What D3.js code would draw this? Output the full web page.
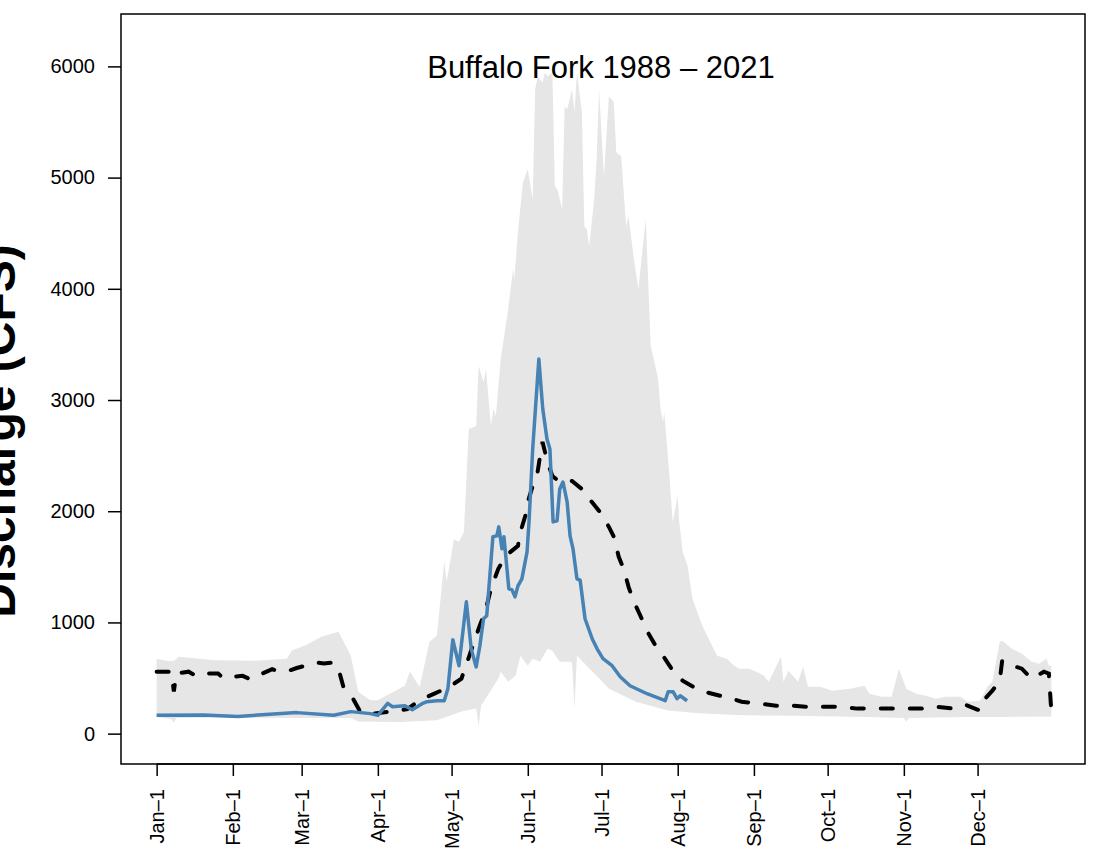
<!DOCTYPE html>
<html>
<head>
<meta charset="utf-8">
<script src="https://cdn.jsdelivr.net/npm/d3@7"></script>
<style>
  body { margin: 0; background: #fff; }
  svg { display: block; font-family: "Liberation Sans", Arial, sans-serif; }
</style>
</head>
<body>
<svg id="chart" width="1095" height="861"></svg>
<script>
// day of year -> value
var monthLabels = ["Jan–1","Feb–1","Mar–1","Apr–1","May–1","Jun–1","Jul–1","Aug–1","Sep–1","Oct–1","Nov–1","Dec–1"];
var monthDays = [1, 32, 60, 91, 121, 152, 182, 213, 244, 274, 305, 335];
var yTicks = [0, 1000, 2000, 3000, 4000, 5000, 6000];

// max envelope 1988-2021
var maxDays = [1, 6, 8, 10, 25, 41, 54, 56, 62, 68, 75, 80, 83, 88, 91, 102, 104, 108, 112, 115, 118, 119, 122, 124, 126, 128, 131, 132, 134, 135, 137, 138, 139, 141, 144, 146, 146.5, 148, 150, 152, 154, 155, 156, 158, 159, 160, 162, 163, 164, 166, 167, 168, 170, 171, 172, 174, 175, 176, 177, 179, 180, 181, 183, 185, 187, 188, 190, 192, 193, 195, 197, 200, 202, 203, 205, 206, 207, 207.5, 209, 210, 211, 213, 213.5, 215, 217, 219, 223, 227, 229, 233, 236, 238, 242, 245, 248, 250, 255, 256, 258, 262, 264, 266, 271, 276, 283, 289, 291, 296, 300, 303, 306, 310, 314, 318, 322, 328, 331, 336, 339, 341, 344, 345, 349, 353, 357, 360, 363, 364, 365];
var maxVals = [674, 650, 655, 692, 660, 656, 674, 748, 800, 871, 917, 700, 377, 300, 300, 431, 557, 420, 826, 880, 1545, 1365, 1751, 1724, 1814, 2740, 2766, 3305, 3162, 3278, 2766, 2919, 2856, 3368, 3817, 4177, 4087, 4509, 4958, 5075, 4805, 5793, 5910, 5856, 5946, 5910, 5946, 4922, 4895, 4716, 5641, 5614, 5793, 5587, 5946, 5587, 4563, 4536, 4383, 4805, 5165, 5793, 5012, 5731, 5677, 5227, 5192, 4563, 4653, 4293, 3997, 4626, 3485, 3395, 3189, 2919, 2802, 2892, 2497, 2200, 1904, 2138, 1931, 1635, 1509, 1213, 970, 790, 700, 674, 611, 584, 584, 557, 521, 467, 692, 467, 566, 467, 602, 422, 422, 386, 404, 431, 359, 332, 332, 584, 404, 359, 341, 314, 332, 332, 287, 296, 422, 467, 826, 835, 763, 719, 647, 629, 674, 611, 611];

// min envelope 1988-2021
var minDays = [1, 7, 8, 9, 30, 60, 80, 83, 100, 115, 119, 125, 131, 132, 133, 140, 141, 144, 147, 149, 152, 154, 157, 160, 162, 165, 169, 170, 171, 172, 176, 180, 185, 196, 209, 223, 240, 260, 290, 305, 306, 307, 330, 345, 365];
var minVals = [150, 130, 100, 140, 145, 140, 140, 110, 105, 120, 153, 200, 225, 72, 251, 494, 557, 467, 521, 700, 611, 674, 647, 763, 745, 647, 647, 640, 225, 700, 611, 521, 404, 287, 207, 180, 165, 160, 150, 140, 110, 140, 150, 150, 155];

// mean 1988-2021
var meanDays = [1, 7, 8, 9, 14, 17, 19, 26, 28, 36, 39, 46, 48, 50, 54, 58, 66, 69, 73, 75, 77, 80, 84, 89, 97, 103, 108, 114, 120, 125, 132, 135, 137, 140, 143, 148, 149, 151, 152, 154, 156, 157, 158, 160, 162, 165, 168, 170, 174, 178, 181, 185, 187, 189, 191, 193, 195, 198, 200, 204, 207, 211, 215, 222, 227, 235, 239, 247, 253, 260, 265, 273, 279, 286, 292, 299, 305, 312, 318, 325, 330, 336, 338, 341, 344, 345, 348, 353, 357, 362, 364, 365];
var meanVals = [557, 557, 380, 540, 557, 520, 540, 540, 500, 520, 490, 560, 580, 565, 560, 590, 640, 630, 640, 580, 420, 350, 190, 180, 200, 220, 300, 360, 420, 494, 943, 1123, 1302, 1482, 1599, 1689, 1814, 1958, 2084, 2227, 2353, 2497, 2623, 2443, 2317, 2263, 2272, 2272, 2200, 2084, 2003, 1859, 1770, 1590, 1482, 1320, 1195, 1051, 943, 790, 700, 566, 476, 386, 359, 314, 287, 269, 251, 251, 242, 242, 242, 225, 225, 225, 225, 225, 242, 225, 260, 207, 314, 386, 476, 656, 620, 584, 494, 557, 540, 200];

// 2021
var curDays = [1, 20, 34, 58, 73, 80, 88, 91, 95, 97, 102, 105, 109, 111, 115, 118, 119.5, 121.5, 124, 127, 129, 131, 132.5, 134, 135.3, 137.8, 139.4, 140.2, 141.5, 142.3, 144.3, 145.6, 146.8, 148, 149.6, 151.7, 152.5, 154, 156.5, 158.1, 159.8, 161, 162.3, 163.9, 165, 166.3, 168, 169.2, 170.4, 172, 173.3, 175.3, 178.2, 180.2, 182.6, 186.3, 189.6, 193.6, 200.5, 207.9, 209.1, 211.1, 212.7, 214, 216.8];
var curVals = [165, 168, 155, 189, 165, 198, 180, 165, 272, 242, 251, 215, 269, 287, 296, 296, 404, 845, 611, 1185, 760, 600, 790, 1033, 1060, 1770, 1778, 1859, 1662, 1770, 1302, 1293, 1230, 1329, 1392, 1635, 1904, 2560, 3368, 2919, 2650, 2560, 1904, 1913, 2200, 2263, 2084, 1778, 1662, 1392, 1380, 1033, 853, 763, 674, 611, 512, 431, 359, 296, 377, 377, 314, 341, 296];

var box = {left: 121, right: 1085, top: 14, bottom: 764};

var svg = d3.select("#chart");

var x = d3.scaleLinear().domain([-13.5, 378.7]).range([box.left, box.right]);
var y = d3.scaleLinear().domain([-273, 6471]).range([box.bottom, box.top]);

function pts(days, vals){
    return days.map(function(d, i){ return [d, vals[i]]; });
}

var line = d3.line()
    .x(function(d){ return x(d[0]); })
    .y(function(d){ return y(d[1]); });

// min/max band
var band = pts(maxDays, maxVals).concat(pts(minDays, minVals).reverse());
svg.append("path")
    .attr("d", line(band) + "Z")
    .attr("fill", "#e6e6e6")
    .attr("stroke", "none");

svg.append("path")
    .attr("d", line(pts(meanDays, meanVals)))
    .attr("fill", "none")
    .attr("stroke", "#000")
    .attr("stroke-width", 4)
    .attr("stroke-linecap", "round")
    .attr("stroke-dasharray", "12 17");

svg.append("path")
    .attr("d", line(pts(curDays, curVals)))
    .attr("fill", "none")
    .attr("stroke", "#4682b4")
    .attr("stroke-width", 3.5)
    .attr("stroke-linejoin", "round");

// frame
svg.append("rect")
    .attr("x", box.left).attr("y", box.top)
    .attr("width", box.right - box.left).attr("height", box.bottom - box.top)
    .attr("fill", "none").attr("stroke", "#000").attr("stroke-width", 1.5);

// y axis
var yAxis = svg.append("g")
    .attr("transform", "translate(" + box.left + ",0)")
    .call(d3.axisLeft(y).tickValues(yTicks).tickSize(13).tickPadding(13).tickFormat(d3.format("d")));
yAxis.select(".domain").remove();
yAxis.selectAll("line").attr("stroke", "#000").attr("stroke-width", 1.5);
yAxis.selectAll("text").attr("font-size", 20).attr("fill", "#000")
    .attr("font-family", "Liberation Sans, Arial, sans-serif");

// x axis
var xAxis = svg.append("g")
    .attr("transform", "translate(0," + box.bottom + ")")
    .call(d3.axisBottom(x).tickValues(monthDays).tickSize(12).tickFormat(function(d, i){ return monthLabels[i]; }));
xAxis.select(".domain").remove();
xAxis.append("line")
    .attr("x1", x(monthDays[0])).attr("x2", x(monthDays[monthDays.length - 1]))
    .attr("stroke", "#000").attr("stroke-width", 1.5);
xAxis.selectAll("line").attr("stroke", "#000").attr("stroke-width", 1.5);
xAxis.selectAll("text")
    .attr("font-size", 20).attr("fill", "#000")
    .attr("font-family", "Liberation Sans, Arial, sans-serif")
    .attr("text-anchor", "end")
    .attr("transform", "rotate(-90)")
    .attr("x", -25).attr("y", 0).attr("dy", "0.35em");

// title
svg.append("text")
    .attr("x", 601).attr("y", 78)
    .attr("text-anchor", "middle")
    .attr("font-size", 31)
    .text("Buffalo Fork 1988 – 2021");

// y label
svg.append("text")
    .attr("transform", "translate(15,431) rotate(-90)")
    .attr("text-anchor", "middle")
    .attr("font-size", 48)
    .attr("font-weight", "bold")
    .text("Discharge (CFS)");
</script>
</body>
</html>
